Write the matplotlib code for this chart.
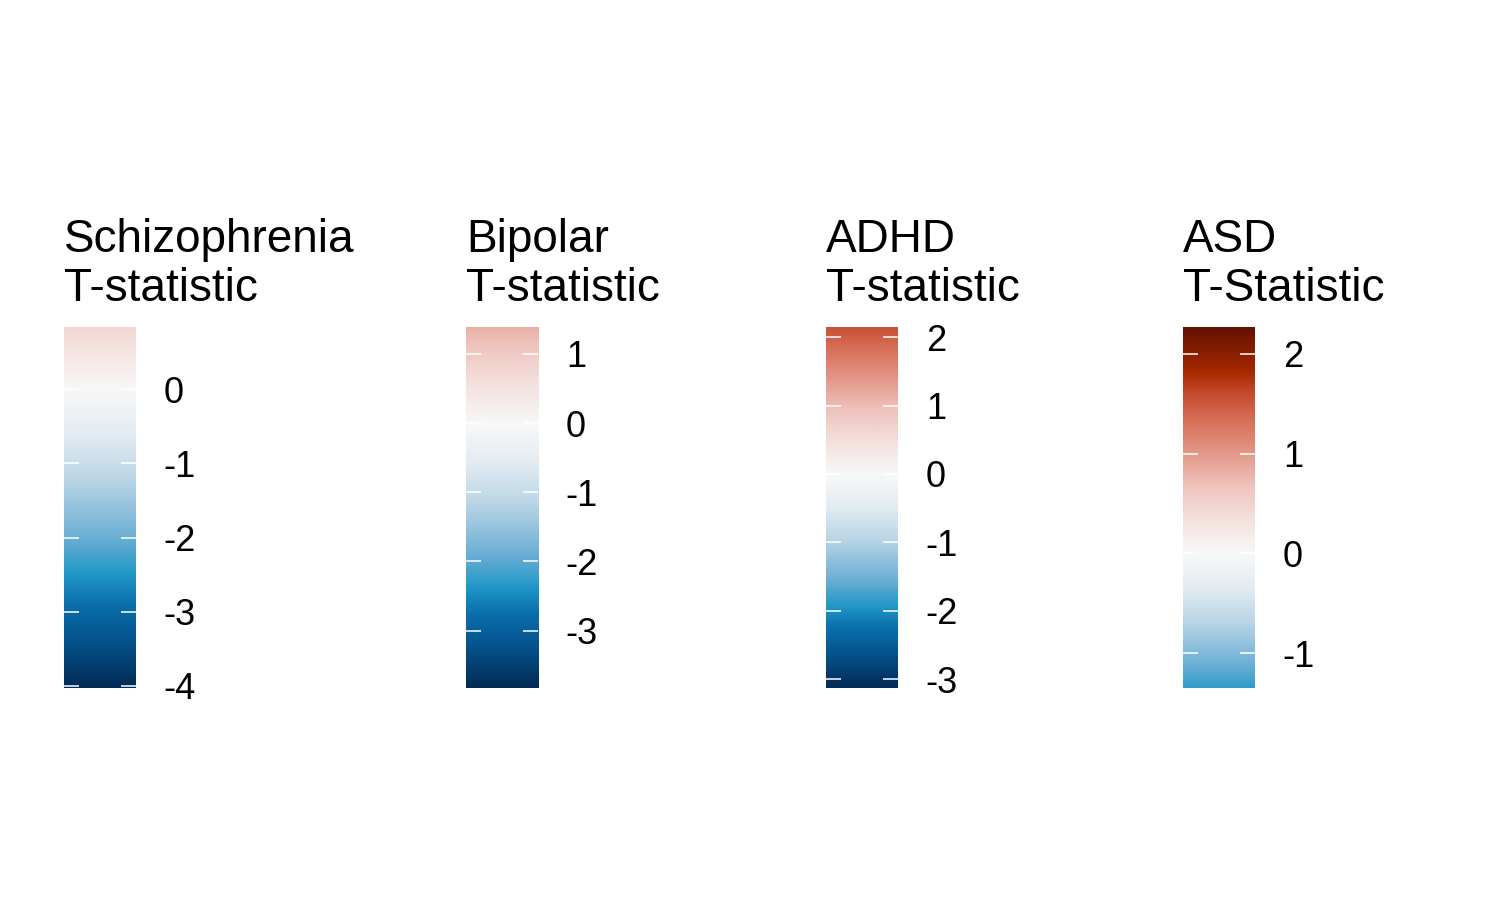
import numpy as np
import matplotlib
matplotlib.use("Agg")
import matplotlib.pyplot as plt
from matplotlib.colors import LinearSegmentedColormap, Normalize

plt.rcParams['font.family'] = ['Liberation Sans', 'DejaVu Sans']

# ---- data ----
titles = ["Schizophrenia\nT-statistic", "Bipolar\nT-statistic",
          "ADHD\nT-statistic", "ASD\nT-Statistic"]
lower = [-4.03, -3.83, -3.13, -1.35]
upper = [0.84, 1.39, 2.15, 2.27]
ticks = [[0, -1, -2, -3, -4], [1, 0, -1, -2, -3],
         [2, 1, 0, -1, -2, -3], [2, 1, 0, -1]]

# diverging palette (position in [-1, 1], colour)
pal_pos = [-1.0, -0.85, -0.72, -0.62, -0.5, -0.3, -0.15, 0.0,
           0.15, 0.3, 0.44, 0.6, 0.72, 0.8, 1.0]
pal_col = ["#022c57", "#04528c", "#0a70ac", "#2198c7", "#6aaed4", "#bcd6e7",
           "#e3ecf2", "#f8f8f8", "#f4e1de", "#efc3bc", "#e4998a", "#d76c55",
           "#c2482a", "#a82a00", "#641200"]
cmap = LinearSegmentedColormap.from_list(
    "div", list(zip([(p + 1) / 2 for p in pal_pos], pal_col)))

fig = plt.figure(figsize=(15, 9), dpi=100)
W, H = 1500, 900
bar_left = [64, 466, 826, 1183]
bar_w = 72
bar_top, bar_bot = 327, 688

for i in range(4):
    x0 = bar_left[i]
    ax = fig.add_axes([x0 / W, 1 - bar_bot / H, bar_w / W, (bar_bot - bar_top) / H])
    lo, hi = lower[i], upper[i]
    m = max(abs(lo), abs(hi))
    grad = np.linspace(lo, hi, 400).reshape(-1, 1)
    ax.imshow(grad, aspect='auto', origin='lower', extent=[0, 1, lo, hi],
              cmap=cmap, norm=Normalize(-m, m), interpolation='bilinear')
    ax.set_xlim(0, 1)
    ax.set_ylim(lo, hi)
    ax.set_xticks([])
    ax.set_yticks(ticks[i])
    ax.set_yticklabels([str(t) for t in ticks[i]])
    ax.yaxis.tick_right()
    ax.tick_params(axis='y', which='both', direction='in', left=True, right=True,
                   labelleft=False, labelright=True, color='white',
                   length=10.5, width=1.1, pad=20, labelsize=26)
    for s in ax.spines.values():
        s.set_visible(False)
    fig.text(x0 / W, 1 - 218 / H, titles[i], ha='left', va='top',
             fontsize=33.0, linespacing=1.16)

fig.savefig("out.png", dpi=100, facecolor='white')
